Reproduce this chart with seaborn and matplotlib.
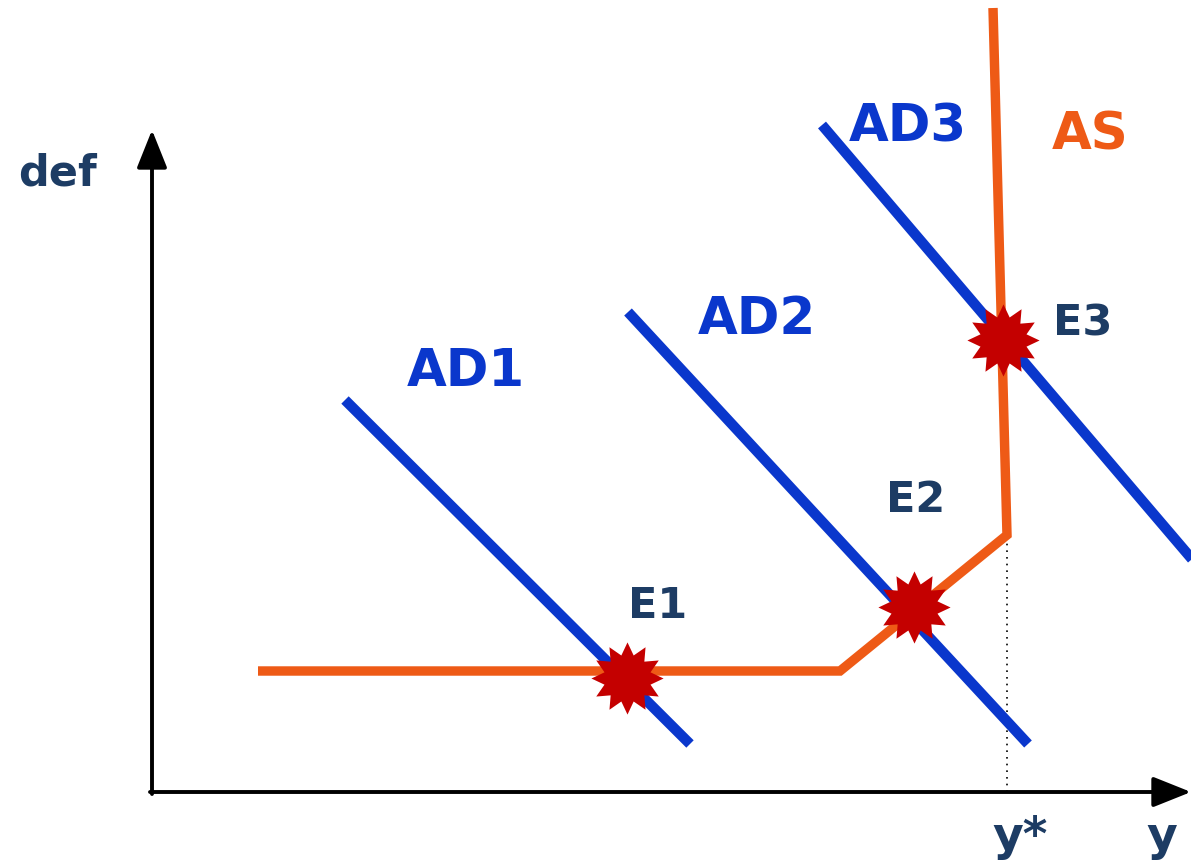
import numpy as np
import pandas as pd
import matplotlib
matplotlib.use("Agg")
import matplotlib.pyplot as plt
from matplotlib.path import Path
import seaborn as sns

# ---- data (diagram coordinates: origin at the axes corner) ----
ad1_x = [193, 538]
ad1_y = [392, 48]
ad2_x = [476, 876]
ad2_y = [480, 48]
ad3_x = [670, 1045]
ad3_y = [667, 227]
as_x = [106, 688, 855, 841]
as_y = [121, 121, 257, 784]
eq_labels = ["E1", "E2", "E3"]
eq_x = [475, 762, 851]
eq_y = [114, 185, 452]
ystar = 855

sns.set_theme(style="white")
plt.rcParams['font.family'] = ['DejaVu Sans']

fig = plt.figure(figsize=(11.91, 8.66), dpi=100)
ax = fig.add_axes([0, 0, 1, 1])
ax.set_xlim(-152, 1039)
ax.set_ylim(-74, 792)
ax.axis("off")

blue = "#0a37cc"
orange = "#ee5a16"
red = "#c40000"
dark = "#1d3c64"

for xs, ys in [(ad1_x, ad1_y), (ad2_x, ad2_y), (ad3_x, ad3_y)]:
    df = pd.DataFrame({"x": xs, "y": ys})
    sns.lineplot(data=df, x="x", y="y", sort=False, color=blue, lw=7.5,
                 ax=ax, solid_capstyle="butt", zorder=3)

dfas = pd.DataFrame({"x": as_x, "y": as_y})
sns.lineplot(data=dfas, x="x", y="y", sort=False, color=orange, lw=6.8,
             ax=ax, solid_capstyle="butt", solid_joinstyle="miter", zorder=4)

# dotted guide to y*
ax.plot([ystar, ystar], [0, as_y[2]], ls=(0, (1, 3)), color="black", lw=1.2, zorder=2)

# axes arrows
arrow_kw = dict(arrowstyle="-|>,head_length=0.9,head_width=0.36",
                color="black", lw=2.8, mutation_scale=26, shrinkA=0, shrinkB=0)
ax.annotate("", xy=(0, 662), xytext=(0, -2), arrowprops=arrow_kw)
ax.annotate("", xy=(1039, 0), xytext=(-2, 0), arrowprops=arrow_kw)

# star marker
n = 12
ang = np.linspace(0, 2 * np.pi, 2 * n, endpoint=False) + np.pi / 2
rad = np.where(np.arange(2 * n) % 2 == 0, 1.0, 0.66)
verts = np.column_stack([rad * np.cos(ang), rad * np.sin(ang)])
verts = np.vstack([verts, verts[0]])
star = Path(verts, closed=True)

dfe = pd.DataFrame({"x": eq_x, "y": eq_y})
sns.scatterplot(data=dfe, x="x", y="y", marker=star, s=2700, color=red,
                edgecolor=red, linewidth=0, ax=ax, zorder=6)
ax.set_xlabel("")
ax.set_ylabel("")

fs_big = 37
fs_mid = 31
ax.text(314, 420, "AD1", color=blue, fontsize=fs_big, fontweight="bold", ha="center", va="center")
ax.text(605, 472, "AD2", color=blue, fontsize=fs_big, fontweight="bold", ha="center", va="center")
ax.text(756, 664, "AD3", color=blue, fontsize=fs_big, fontweight="bold", ha="center", va="center")
ax.text(938, 656, "AS", color=orange, fontsize=fs_big, fontweight="bold", ha="center", va="center")

ax.text(506, 186, "E1", color=dark, fontsize=fs_mid, fontweight="bold", ha="center", va="center")
ax.text(764, 292, "E2", color=dark, fontsize=fs_mid, fontweight="bold", ha="center", va="center")
ax.text(931, 469, "E3", color=dark, fontsize=fs_mid, fontweight="bold", ha="center", va="center")

ax.text(-95, 619, "def", color=dark, fontsize=fs_mid, fontweight="bold", ha="center", va="center")
ax.text(868, -58, "y*", color=dark, fontsize=34, fontweight="bold", ha="center", va="baseline")
ax.text(1010, -58, "y", color=dark, fontsize=34, fontweight="bold", ha="center", va="baseline")

fig.savefig("out.png", dpi=100)
